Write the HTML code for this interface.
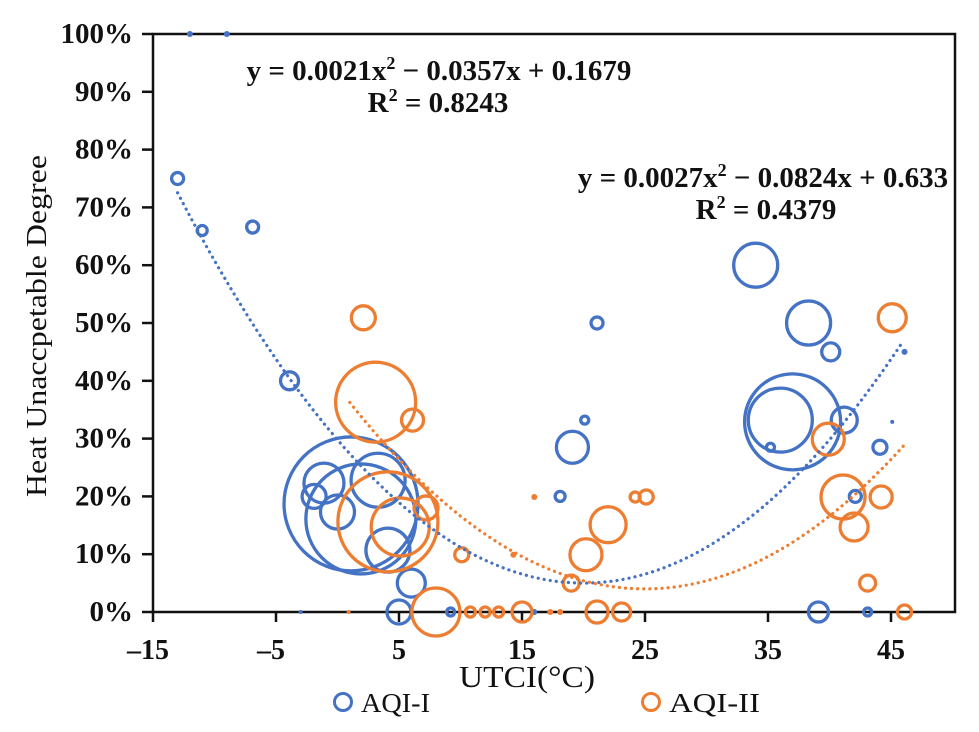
<!DOCTYPE html>
<html><head><meta charset="utf-8"><style>
html,body{margin:0;padding:0;background:#fff;}
svg{display:block;font-family:"Liberation Serif",serif;}
</style></head><body>
<svg id="chart" width="979" height="732" viewBox="0 0 979 732" xmlns="http://www.w3.org/2000/svg">
<g id="plot"></g>
</svg>
<script>
const xTicks=[-15,-5,5,15,25,35,45];
const yTicks=[0,10,20,30,40,50,60,70,80,90,100];
const blueX=[-13,-11,-6.9,-12,-9,-3.9,1.1,1.9,-1.1,-1.9,0,3.3,4.1,6,5,-3,9.2,21.1,20.1,19.1,18.1,34,38.3,40.1,37,36,35.2,41.2,45.1,46.1,44.1,42.1,39.1,43.1,16];
const blueY=[75,66,66.6,100,100,40,18.7,16.1,22.3,20,17.3,22.8,10.7,5,0,0,0,50,33.2,28.5,20,60,50,45,32.9,33.2,28.5,33.2,32.9,45,28.5,20,0,0,0];
const blueR=[6,5,6,3,3,9,67,55,20,12,17,27,22,14,12,2,4,6,4,16,5,22,22,9,48,32,4,13,2,3,7,6,10,4,3];
const orangeX=[2.1,3.1,6.1,4.1,5.1,7.2,10.1,8,10.8,12,13.1,16,14.3,20.2,22,19,24.2,25.1,15,21.1,23.1,39.9,41.1,42,44.2,45.1,43.1,46.1,0.9,17.3,18.1];
const orangeY=[50.9,36.3,33.2,15.6,14.7,18,9.9,0,0,0,0,19.9,9.9,9.9,15.1,5,19.9,19.9,0,0,0,29.9,19.9,14.7,19.9,50.9,5,0,0,0,0];
const orangeR=[12,40,11,50,29,12,7,24,5,5,5,3,3,16,18,8,5,7,10,11,9,16,22,14,11,14,8,7,2,3,3];
const blueFit=[0.00062,20,0.05,-13,46];
const orangeFit=[0.00056,25,0.04,1,46];
const NS="http://www.w3.org/2000/svg";
const X=v=>399+(v-5)*12.3;
const Y=p=>612-p*5.78;
const g=document.getElementById('plot');
function mk(t,a){const e=document.createElementNS(NS,t);for(const k in a)e.setAttribute(k,a[k]);g.appendChild(e);return e;}
let e=mk('rect',{x:153,y:34,width:802,height:578,fill:'none',stroke:'#111','stroke-width':2.5});


xTicks.forEach(v=>{
 const t=mk('line',{x1:X(v),y1:612,x2:X(v),y2:622,stroke:'#111','stroke-width':2.5});
 
 
 const l=mk('text',{x:X(v)-(v<0?5:0),y:659,'text-anchor':'middle','font-size':28,'font-weight':'bold',fill:'#111'});
 l.textContent=v<0?'\u2013'+Math.abs(v):String(v);
 
 
});
yTicks.forEach(v=>{
 const t=mk('line',{x1:142,y1:Y(v),x2:153,y2:Y(v),stroke:'#111','stroke-width':2.5});
 
 
 const l=mk('text',{x:133,y:Y(v)+9,'text-anchor':'end','font-size':29,'font-weight':'bold',fill:'#111'});
 l.textContent=v+'%';
 
 
});
function fit(f,col,name){
 let d='';for(let v=f[3];v<=f[4]+0.001;v+=0.5){const p=(f[0]*(v-f[1])*(v-f[1])+f[2])*100;d+=(d?'L':'M')+X(v).toFixed(1)+','+Y(p).toFixed(1);}
 const p=mk('path',{d:d,fill:'none',stroke:col,'stroke-width':3.2,'stroke-dasharray':'0.1 6','stroke-linecap':'round'});
 
 
}
function bubbles(xs,ys,rs,col,name){
 xs.forEach((x,i)=>{
  const r=rs[i];const filled=r<=3;
  const c=mk('circle',{cx:X(x),cy:Y(ys[i]),r:r,fill:filled?col:'none',stroke:col,'stroke-width':filled?0:3.3});
  
  
 });
}
bubbles(blueX,blueY,blueR,'#4472C4','bubble-aqi-1');
bubbles(orangeX,orangeY,orangeR,'#ED7D31','bubble-aqi-2');
fit(blueFit,'#4472C4','trendline-aqi-1');
fit(orangeFit,'#ED7D31','trendline-aqi-2');
function txt(x,y,s,sz,w,name,anchor,len){const a={x:x,y:y,'font-size':sz,'font-weight':w,'text-anchor':anchor||'middle',fill:'#111'};if(len){a.textLength=len;a.lengthAdjust='spacingAndGlyphs';}const t=mk('text',a);t.innerHTML=s;return t;}
txt(439,80,'y = 0.0021x<tspan font-size="18" dy="-11">2</tspan><tspan dy="11"> \u2212 0.0357x + 0.1679</tspan>',29,'bold','equation-aqi-1');
txt(438,112,'R<tspan font-size="18" dy="-11">2</tspan><tspan dy="11"> = 0.8243</tspan>',29,'bold','r-squared-aqi-1');
txt(763,187,'y = 0.0027x<tspan font-size="18" dy="-11">2</tspan><tspan dy="11"> \u2212 0.0824x + 0.633</tspan>',29,'bold','equation-aqi-2');
txt(766,219,'R<tspan font-size="18" dy="-11">2</tspan><tspan dy="11"> = 0.4379</tspan>',29,'bold','r-squared-aqi-2');
txt(527,687,'UTCI(\u00B0C)',31,'normal','x-axis-title','middle',136);
const yt=txt(0,0,'Heat Unaccpetable Degree',28,'normal','y-axis-title','middle',342);
yt.setAttribute('transform','translate(46,326) rotate(-90)');
e=mk('circle',{cx:343,cy:702,r:8.5,fill:'none',stroke:'#4472C4','stroke-width':3});


txt(361,712,'AQI-I',27,'normal','legend-label-aqi-1','start',69);
e=mk('circle',{cx:651,cy:702,r:8.5,fill:'none',stroke:'#ED7D31','stroke-width':3});


txt(669,712,'AQI-II',27,'normal','legend-label-aqi-2','start',91);
</script>
</body></html>
